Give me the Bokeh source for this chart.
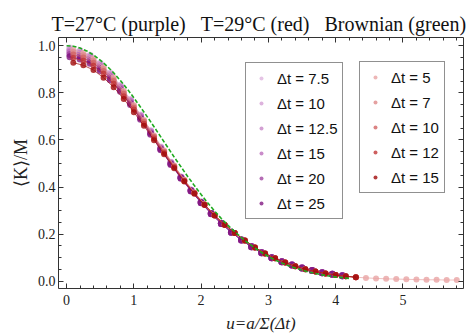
from bokeh.plotting import figure
from bokeh.models import (Range1d, LinearAxis, Legend, LegendItem,
                          SingleIntervalTicker, CustomJSTickFormatter, PrintfTickFormatter)
from bokeh.embed import file_html
from bokeh.resources import INLINE

# ---------------- data ----------------
# T = 27 C (purple), shared u grid
u_purple = [0.05, 0.20, 0.35, 0.50, 0.65, 0.80, 0.95, 1.10, 1.25, 1.40, 1.55, 1.70, 1.85, 2.00,
            2.15, 2.30, 2.45, 2.60, 2.75, 2.90, 3.05, 3.20, 3.35, 3.50, 3.65, 3.80, 3.95, 4.10]
p_dt7_5 = [0.990, 0.979, 0.960, 0.926, 0.884, 0.832, 0.772, 0.706, 0.639, 0.570, 0.505, 0.443, 0.387, 0.336,
           0.288, 0.246, 0.208, 0.175, 0.146, 0.121, 0.100, 0.083, 0.069, 0.056, 0.045, 0.036, 0.029, 0.023]
p_dt10 = [0.985, 0.974, 0.955, 0.922, 0.880, 0.828, 0.769, 0.704, 0.637, 0.568, 0.504, 0.442, 0.386, 0.336,
          0.288, 0.246, 0.208, 0.175, 0.146, 0.121, 0.100, 0.083, 0.069, 0.056, 0.045, 0.036, 0.029, 0.023]
p_dt12_5 = [0.979, 0.968, 0.950, 0.917, 0.876, 0.824, 0.765, 0.701, 0.635, 0.566, 0.502, 0.441, 0.386, 0.335,
            0.288, 0.245, 0.208, 0.175, 0.146, 0.121, 0.100, 0.083, 0.069, 0.056, 0.045, 0.036, 0.029, 0.023]
p_dt15 = [0.972, 0.962, 0.943, 0.911, 0.870, 0.820, 0.761, 0.698, 0.632, 0.564, 0.501, 0.440, 0.385, 0.334,
          0.287, 0.245, 0.208, 0.175, 0.146, 0.121, 0.100, 0.083, 0.069, 0.056, 0.045, 0.036, 0.029, 0.023]
p_dt20 = [0.963, 0.953, 0.935, 0.903, 0.863, 0.814, 0.756, 0.693, 0.628, 0.561, 0.499, 0.439, 0.384, 0.334,
          0.287, 0.245, 0.208, 0.175, 0.146, 0.121, 0.100, 0.083, 0.069, 0.056, 0.045, 0.036, 0.029, 0.023]
p_dt25 = [0.953, 0.944, 0.926, 0.895, 0.856, 0.807, 0.750, 0.688, 0.624, 0.558, 0.496, 0.437, 0.383, 0.333,
          0.286, 0.245, 0.208, 0.175, 0.146, 0.121, 0.100, 0.083, 0.069, 0.056, 0.045, 0.036, 0.029, 0.023]

# T = 29 C (red)
u_red = [0.10, 0.25, 0.40, 0.55, 0.70, 0.85, 1.00, 1.15, 1.30, 1.45, 1.60, 1.75, 1.90, 2.05, 2.20,
         2.35, 2.50, 2.65, 2.80, 2.95, 3.10, 3.25, 3.40, 3.55, 3.70, 3.85, 4.00, 4.15, 4.30]
u_red5 = [0.10, 0.25, 0.40, 0.55, 0.70, 0.85, 1.00, 1.15, 1.30, 1.45, 1.60, 1.75, 1.90, 2.05, 2.20,
          2.35, 2.50, 2.65, 2.80, 2.95, 3.10, 3.25, 3.40, 3.55, 3.70, 3.85, 4.00, 4.15, 4.30,
          4.45, 4.60, 4.75, 4.90, 5.05, 5.20, 5.35, 5.50, 5.65, 5.80]
r_dt5 = [0.983, 0.969, 0.946, 0.909, 0.865, 0.809, 0.748, 0.685, 0.619, 0.555, 0.491, 0.431, 0.377, 0.327, 0.281,
         0.240, 0.205, 0.173, 0.143, 0.118, 0.097, 0.079, 0.064, 0.051, 0.041, 0.033, 0.026, 0.021, 0.017,
         0.014, 0.012, 0.010, 0.009, 0.008, 0.007, 0.006, 0.006, 0.005, 0.005]
r_dt7 = [0.973, 0.960, 0.937, 0.901, 0.857, 0.802, 0.743, 0.681, 0.616, 0.552, 0.489, 0.430, 0.376, 0.327, 0.280,
         0.240, 0.205, 0.173, 0.143, 0.118, 0.097, 0.079, 0.064, 0.051, 0.041, 0.033, 0.026, 0.021, 0.017]
r_dt10 = [0.963, 0.950, 0.928, 0.893, 0.850, 0.796, 0.737, 0.676, 0.612, 0.549, 0.487, 0.428, 0.375, 0.326, 0.280,
          0.240, 0.205, 0.173, 0.143, 0.118, 0.097, 0.079, 0.064, 0.051, 0.041, 0.033, 0.026, 0.021, 0.017]
r_dt12 = [0.948, 0.936, 0.915, 0.881, 0.839, 0.786, 0.729, 0.669, 0.606, 0.545, 0.484, 0.426, 0.373, 0.325, 0.279,
          0.240, 0.205, 0.173, 0.143, 0.118, 0.097, 0.079, 0.064, 0.051, 0.041, 0.033, 0.026, 0.021, 0.017]
r_dt15 = [0.928, 0.917, 0.897, 0.864, 0.824, 0.774, 0.718, 0.660, 0.599, 0.539, 0.480, 0.423, 0.371, 0.324, 0.279,
          0.239, 0.205, 0.173, 0.143, 0.118, 0.097, 0.079, 0.064, 0.051, 0.041, 0.033, 0.026, 0.021, 0.017]

# Brownian (green dashed)
u_brown = [0.0, 0.1, 0.2, 0.3, 0.4, 0.5, 0.6, 0.7, 0.8, 0.9, 1.0, 1.1, 1.2, 1.3, 1.4, 1.5, 1.6, 1.7, 1.8,
           1.9, 2.0, 2.1, 2.2, 2.3, 2.4, 2.5, 2.6, 2.7, 2.8, 2.9, 3.0, 3.1, 3.2, 3.3, 3.4, 3.5, 3.6,
           3.7, 3.8, 3.9, 4.0, 4.1, 4.2]
k_brown = [1.000, 0.998, 0.990, 0.978, 0.961, 0.939, 0.914, 0.885, 0.852, 0.817, 0.779, 0.739, 0.698,
           0.656, 0.613, 0.570, 0.527, 0.486, 0.445, 0.406, 0.368, 0.332, 0.298, 0.266, 0.237, 0.210,
           0.185, 0.162, 0.141, 0.122, 0.105, 0.090, 0.077, 0.066, 0.056, 0.047, 0.039, 0.033, 0.027,
           0.022, 0.018, 0.015, 0.012]

purple_labels = ["Δt = 7.5", "Δt = 10", "Δt = 12.5", "Δt = 15", "Δt = 20", "Δt = 25"]
red_labels = ["Δt = 5", "Δt = 7", "Δt = 10", "Δt = 12", "Δt = 15"]
GAP = " \u00a0\u00a0"
title_text = "T=27°C (purple)" + GAP + "T=29°C (red)" + GAP + "Brownian (green)"

# ---------------- styling ----------------
SERIF = "Liberation Serif"
SANS = "Liberation Sans"
AX = "#333333"
purple_cols = ["#dcb0dc", "#d29ad2", "#c480c4", "#b866b8", "#9c3c9c", "#7a0a7a"]
red_cols = ["#e8a4a4", "#df8a8a", "#d26464", "#c23838", "#a00a0a"]

p = figure(width=471, height=336, output_backend="svg", toolbar_location=None,
           x_range=Range1d(-0.12, 5.9), y_range=Range1d(-0.031, 1.035),
           min_border_left=58, min_border_right=8, min_border_top=37, min_border_bottom=48,
           x_axis_label="u=a/Σ(Δt)", y_axis_label="⟨K⟩/M")
p.grid.visible = False
p.outline_line_color = None
p.background_fill_color = "white"
p.border_fill_color = "white"

p.title.text = title_text
p.title.text_font = SERIF
p.title.text_font_size = "20px"
p.title.text_font_style = "normal"
p.title.text_color = "#111111"
p.title.align = "left"
p.title.offset = -7
p.title.standoff = 5

p.xaxis.ticker = SingleIntervalTicker(interval=1, num_minor_ticks=5)
p.yaxis.ticker = SingleIntervalTicker(interval=0.2, num_minor_ticks=4)
p.yaxis.formatter = PrintfTickFormatter(format="%.1f")


def style_axis(ax):
    ax.axis_line_color = AX
    ax.major_tick_line_color = AX
    ax.minor_tick_line_color = AX
    ax.major_tick_in = 5
    ax.major_tick_out = 0
    ax.minor_tick_in = 3
    ax.minor_tick_out = 0
    ax.major_label_text_font = SERIF
    ax.major_label_text_font_size = "14px"
    ax.major_label_text_color = "#222222"
    ax.axis_label_text_font = SERIF
    ax.axis_label_text_color = "#222222"


for ax in (p.xaxis[0], p.yaxis[0]):
    style_axis(ax)
p.xaxis.major_label_standoff = 6
p.xaxis.axis_label_standoff = 6
p.xaxis.axis_label_text_font_size = "17px"
p.xaxis.axis_label_text_font_style = "italic"
p.yaxis.major_label_standoff = 3
p.yaxis.axis_label_standoff = 4
p.yaxis.axis_label_text_font_size = "18px"
p.yaxis.axis_label_text_font_style = "normal"

blank = CustomJSTickFormatter(code="return ''")
top_ax = LinearAxis(ticker=SingleIntervalTicker(interval=1, num_minor_ticks=5), formatter=blank)
right_ax = LinearAxis(ticker=SingleIntervalTicker(interval=0.2, num_minor_ticks=4), formatter=blank)
for ax in (top_ax, right_ax):
    style_axis(ax)
    ax.major_label_standoff = 0
    ax.major_label_text_font_size = "1px"
p.add_layout(top_ax, "above")
p.add_layout(right_ax, "right")

# ---------------- data glyphs ----------------
purple_series = [p_dt7_5, p_dt10, p_dt12_5, p_dt15, p_dt20, p_dt25]
red_series = [r_dt5, r_dt7, r_dt10, r_dt12, r_dt15]
red_us = [u_red5, u_red, u_red, u_red, u_red]

purple_r = []
for ys, col in zip(purple_series, purple_cols):
    p.line(u_purple, ys, line_color=col, line_width=1, line_alpha=0.7)
    purple_r.append(p.scatter(u_purple, ys, size=7, fill_color=col, fill_alpha=0.75, line_color=None))
red_r = []
for us, ys, col in zip(red_us, red_series, red_cols):
    p.line(us, ys, line_color=col, line_width=1, line_alpha=0.7)
    red_r.append(p.scatter(us, ys, size=6, fill_color=col, fill_alpha=0.8, line_color=None))

p.line(u_brown, k_brown, line_color="#1faa1f", line_width=1.6, line_dash="4 2")


# ---------------- legends ----------------
def make_legend(labels, renderers, loc):
    items = [LegendItem(label=lab, renderers=[r]) for lab, r in zip(labels, renderers)]
    lg = Legend(items=items, location=loc, orientation="vertical",
                glyph_width=20, glyph_height=10, label_height=20, spacing=5, padding=5,
                label_standoff=6, margin=0,
                label_text_font=SANS, label_text_font_size="15px", label_text_color="#111111",
                border_line_color="#222222", border_line_width=1,
                background_fill_color="white", background_fill_alpha=1.0)
    p.add_layout(lg, "center")


make_legend(purple_labels, purple_r, (187, 69))
make_legend(red_labels, red_r, (301, 95))

open("out.html", "w").write(file_html(p, INLINE))
